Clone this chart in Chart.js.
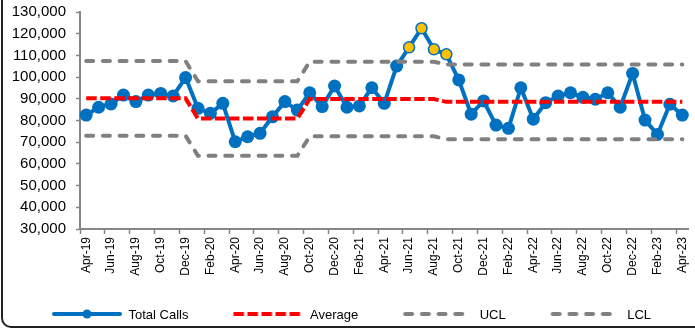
<!DOCTYPE html>
<html>
<head>
<meta charset="utf-8">
<script src="https://cdn.jsdelivr.net/npm/chart.js@4.4.1/dist/chart.umd.min.js"></script>
<style>
  html, body { margin: 0; padding: 0; background: #fff; }
  #wrap { position: relative; width: 695px; height: 330px; overflow: hidden; }
  #frame { position: absolute; left: 1px; top: -30px; width: 760px; height: 358px;
           border: 2px solid #222; border-radius: 10px; box-sizing: border-box; pointer-events: none; }
  canvas { position: absolute; left: 0; top: 0; }
</style>
</head>
<body>
<div id="wrap">
  <canvas id="chart" width="695" height="330"></canvas>
  <div id="frame"></div>
</div>
<script>
// Monthly call volume, Apr-19 .. Apr-23
const months = [
  'Apr-19','May-19','Jun-19','Jul-19','Aug-19','Sep-19','Oct-19','Nov-19','Dec-19',
  'Jan-20','Feb-20','Mar-20','Apr-20','May-20','Jun-20','Jul-20','Aug-20','Sep-20',
  'Oct-20','Nov-20','Dec-20','Jan-21','Feb-21','Mar-21','Apr-21','May-21','Jun-21','Jul-21','Aug-21',
  'Sep-21','Oct-21','Nov-21','Dec-21','Jan-22','Feb-22','Mar-22','Apr-22','May-22','Jun-22','Jul-22',
  'Aug-22','Sep-22','Oct-22','Nov-22','Dec-22','Jan-23','Feb-23','Mar-23','Apr-23'
];

const totalCalls = [
  82500, 86100, 87600, 91700, 88700, 91700, 92500, 91300, 99800,
  85600, 83300, 87900, 70200, 72500, 74100, 81700, 88700, 84800,
  92800, 86400, 95900, 86100, 86700, 95100, 87900, 105100, 113700, 122500, 112800,
  110500, 98700, 82900, 89000, 77900, 76400, 95100, 80600, 88200, 91300, 92800,
  90700, 89800, 92800, 86100, 101700, 80200, 73600, 87500, 82500
];

// Control-chart phases: first month index of each phase and its centre line / limits
const phaseStart = [0, 9, 18, 29];
const phaseMean  = [90200, 80900, 89900, 88600];
const phaseUCL   = [107400, 98100, 107100, 105800];
const phaseLCL   = [73000, 63700, 72700, 71400];

// Y axis ticks
const yMin = 30000, yMax = 130000, yStep = 10000;

function phaseOf(i) {
  let p = 0;
  for (let k = 0; k < phaseStart.length; k++) if (i >= phaseStart[k]) p = k;
  return p;
}
const average = months.map((m, i) => phaseMean[phaseOf(i)]);
const ucl     = months.map((m, i) => phaseUCL[phaseOf(i)]);
const lcl     = months.map((m, i) => phaseLCL[phaseOf(i)]);

const BLUE = '#0070C0', RED = '#FF0000', GRAY = '#808080', GOLD = '#FFC000', AXIS = '#868686';
const FONT = "'Liberation Sans', Arial, sans-serif";
const AVG_DASH = [10.5, 3.5], LIMIT_DASH = [7, 9.7];

// months above the upper control limit are flagged in gold
const flagged = totalCalls.map((v, i) => v > ucl[i]);

// legend symbols: 70px line sample, preceded by 35px of spacing
const SYM_W = 105, SYM_GAP = 35, SYM_H = 16, SYM_Y = 7;
function legendSymbol(color, dash, cap, marker) {
  const c = document.createElement('canvas');
  c.width = SYM_W; c.height = SYM_H;
  const g = c.getContext('2d');
  g.strokeStyle = color; g.lineWidth = 4; g.lineCap = cap; g.setLineDash(dash);
  g.beginPath();
  g.moveTo(SYM_GAP + (cap === 'round' ? 2 : 0), SYM_Y);
  g.lineTo(SYM_W - (cap === 'round' ? 2 : 0), SYM_Y);
  g.stroke();
  if (marker) {
    g.setLineDash([]); g.fillStyle = color;
    g.beginPath(); g.arc(SYM_GAP + 35, SYM_Y, 4.5, 0, Math.PI * 2); g.fill();
  }
  return c;
}

new Chart(document.getElementById('chart'), {
  type: 'line',
  data: {
    labels: months,
    datasets: [
      {
        label: 'Total Calls', data: totalCalls, order: 4,
        borderColor: BLUE, borderWidth: 4, borderJoinStyle: 'round',
        pointBackgroundColor: flagged.map(f => f ? GOLD : BLUE),
        pointBorderColor: BLUE,
        pointBorderWidth: flagged.map(f => f ? 1.5 : 0),
        pointRadius: flagged.map(f => f ? 5.5 : 6.5),
        tension: 0
      },
      {
        label: 'Average', data: average, order: 3,
        borderColor: RED, borderWidth: 4, borderDash: AVG_DASH, pointRadius: 0, tension: 0
      },
      {
        label: 'UCL', data: ucl, order: 2,
        borderColor: GRAY, borderWidth: 4, borderDash: LIMIT_DASH, borderCapStyle: 'round', pointRadius: 0, tension: 0
      },
      {
        label: 'LCL', data: lcl, order: 1,
        borderColor: GRAY, borderWidth: 4, borderDash: LIMIT_DASH, borderCapStyle: 'round', pointRadius: 0, tension: 0
      }
    ]
  },
  options: {
    responsive: false,
    animation: false,
    clip: false,
    layout: { padding: { left: 7, right: 0, top: 12, bottom: -1.5 } },
    plugins: {
      tooltip: { enabled: false },
      legend: {
        position: 'bottom',
        align: 'start',
        labels: {
          usePointStyle: true,
          pointStyleWidth: SYM_W,
          padding: 10,
          color: '#000',
          font: { family: FONT, size: 13 },
          generateLabels: () => [
            { text: 'Total Calls', pointStyle: legendSymbol(BLUE, [], 'round', true), hidden: false, datasetIndex: 0, lineWidth: 0 },
            { text: 'Average', pointStyle: legendSymbol(RED, AVG_DASH, 'butt', false), hidden: false, datasetIndex: 1, lineWidth: 0 },
            { text: 'UCL', pointStyle: legendSymbol(GRAY, LIMIT_DASH, 'round', false), hidden: false, datasetIndex: 2, lineWidth: 0 },
            { text: 'LCL', pointStyle: legendSymbol(GRAY, LIMIT_DASH, 'round', false), hidden: false, datasetIndex: 3, lineWidth: 0 }
          ]
        }
      }
    },
    scales: {
      x: {
        type: 'category',
        offset: true,
        grid: {
          offset: true, drawOnChartArea: false, drawTicks: true, tickLength: 5, tickWidth: 1.5,
          tickColor: c => (c.index !== undefined && c.index % 2 === 0) ? AXIS : 'rgba(0,0,0,0)'
        },
        border: { display: true, color: AXIS, width: 2 },
        ticks: {
          autoSkip: false, maxRotation: 90, minRotation: 90, padding: 3,
          color: '#000', font: { family: FONT, size: 12 },
          callback: (v, i) => (i % 2 === 0 ? months[i] : '')
        },
        afterFit: s => { s.height = 69.5; s.paddingLeft = 0; s.paddingRight = 2.5; }
      },
      y: {
        min: yMin, max: yMax,
        grid: { drawOnChartArea: false, drawTicks: true, tickLength: 4, tickWidth: 1.5, tickColor: AXIS },
        border: { display: true, color: AXIS, width: 2 },
        ticks: {
          stepSize: yStep, autoSkip: false, padding: 10, color: '#000', font: { family: FONT, size: 15 },
          callback: v => v.toLocaleString('en-US')
        },
        afterFit: s => { s.width = 73; s.paddingTop = 0; s.paddingBottom = 0; }
      }
    }
  }
});
</script>
</body>
</html>
